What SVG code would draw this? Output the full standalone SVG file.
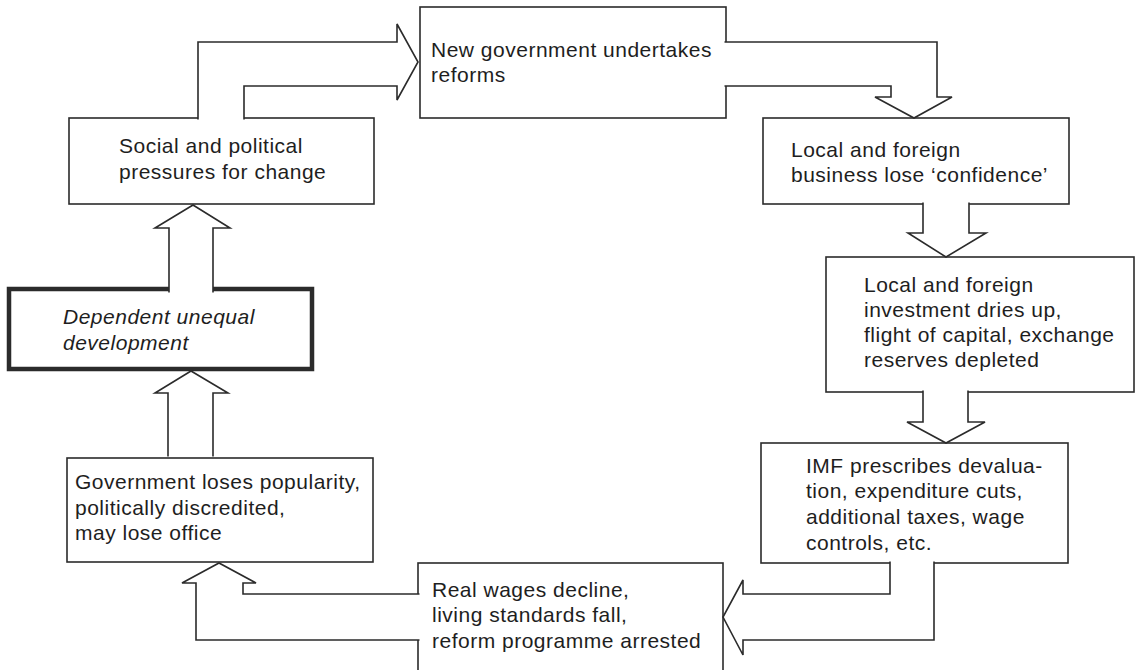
<svg xmlns="http://www.w3.org/2000/svg" width="1138" height="670" viewBox="0 0 1138 670">
<style>
.box{fill:#fff;stroke:#2b2b2b;stroke-width:1.6}
.thick{fill:#fff;stroke:#2b2b2b;stroke-width:4.5}
.arr{fill:#fff;stroke:#2b2b2b;stroke-width:1.6;stroke-linejoin:miter}
text{font-family:"Liberation Sans",Arial,sans-serif;font-size:21px;fill:#1e1e1e;letter-spacing:0.5px}
.it{font-style:italic}
</style>
<rect width="1138" height="670" fill="#fff"/>
<g id="new-government">
<rect class="box" x="420" y="7" width="306" height="111"/>
<text x="431" y="57">New government undertakes</text>
<text x="431" y="82">reforms</text>
</g>
<g id="social-pressures">
<rect class="box" x="69" y="118" width="305" height="86"/>
<text x="119" y="153">Social and political</text>
<text x="119" y="179">pressures for change</text>
</g>
<g id="business-confidence">
<rect class="box" x="763" y="118" width="306" height="86"/>
<text x="791" y="157">Local and foreign</text>
<text x="791" y="182">business lose ‘confidence’</text>
</g>
<g id="investment">
<rect class="box" x="826" y="257" width="308" height="135"/>
<text x="864" y="292">Local and foreign</text>
<text x="864" y="317">investment dries up,</text>
<text x="864" y="342">flight of capital, exchange</text>
<text x="864" y="367">reserves depleted</text>
</g>
<g id="imf">
<rect class="box" x="761" y="443" width="307" height="120"/>
<text x="806" y="473">IMF prescribes devalua-</text>
<text x="806" y="498">tion, expenditure cuts,</text>
<text x="806" y="524">additional taxes, wage</text>
<text x="806" y="550">controls, etc.</text>
</g>
<g id="real-wages">
<rect class="box" x="418" y="563" width="305" height="112"/>
<text x="432" y="597">Real wages decline,</text>
<text x="432" y="622">living standards fall,</text>
<text x="432" y="648">reform programme arrested</text>
</g>
<g id="government-loses">
<rect class="box" x="67" y="458" width="306" height="104"/>
<text x="75" y="489">Government loses popularity,</text>
<text x="75" y="515">politically discredited,</text>
<text x="75" y="540">may lose office</text>
</g>
<g id="dependent-development">
<rect class="thick" x="9" y="289" width="303" height="80"/>
<text class="it" x="63" y="324">Dependent unequal</text>
<text class="it" x="63" y="350">development</text>
</g>
<g id="connectors">
<polyline class="arr" points="198,119.5 198,42 397,42 397,24 418,62 397,100 397,86 244,86 244,119.5"/>
<polyline class="arr" points="724.5,42 937,42 937,97 952,97 914,118 875,97 891,97 891,86 724.5,86"/>
<polyline class="arr" points="923,202.5 923,233 908,233 946,257 986,233 969,233 969,202.5"/>
<polyline class="arr" points="923,390.5 923,422 907,422 946,443 985,422 968,422 968,390.5"/>
<polyline class="arr" points="890,561.5 890,594 743,594 743,580 723,617 743,655 743,640 934,640 934,561.5"/>
<polyline class="arr" points="419.5,594 243,594 243,583 256,583 219,563 182,583 196,583 196,640 419.5,640"/>
<polyline class="arr" points="168,456.5 168,393 155,393 191,371 228,393 213,393 213,456.5"/>
<polyline class="arr" points="169,292.5 169,228 155,228 193,205 230,228 213,228 213,292.5"/>
</g>
</svg>
